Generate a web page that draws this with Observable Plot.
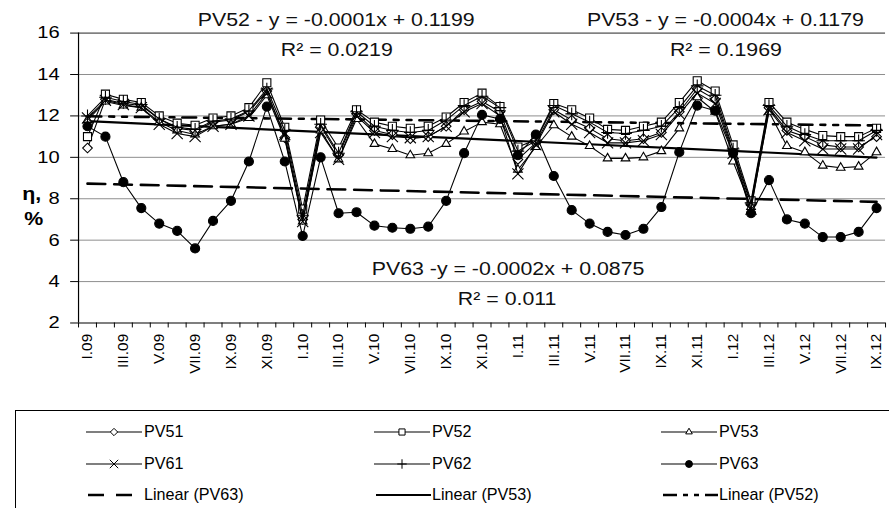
<!DOCTYPE html>
<html><head><meta charset="utf-8">
<script src="https://cdn.jsdelivr.net/npm/d3@7"></script>
<script src="https://cdn.jsdelivr.net/npm/@observablehq/plot@0.6"></script>
<style>
html,body{margin:0;padding:0;background:#fff}
body{width:889px;height:508px;overflow:hidden;position:relative;font-family:"Liberation Sans",Arial,sans-serif}
#chart{position:absolute;left:0;top:0}
#legend{position:absolute;left:15px;top:410px;width:900px;height:130px;border:1px solid #000;box-sizing:border-box}
.li{position:absolute;height:24px}
.li svg{position:absolute;left:0;top:0}
.li span{position:absolute;left:58px;top:2px;font-size:17px;white-space:nowrap;display:inline-block;transform-origin:0 50%;transform:scaleX(0.95)}
</style></head><body>
<div id="chart"></div><div id="legend"></div>
<script>
// ---- data ----
const months = ["I.09","II.09","III.09","IV.09","V.09","VI.09","VII.09","VIII.09","IX.09","X.09","XI.09","XII.09",
"I.10","II.10","III.10","IV.10","V.10","VI.10","VII.10","VIII.10","IX.10","X.10","XI.10","XII.10",
"I.11","II.11","III.11","IV.11","V.11","VI.11","VII.11","VIII.11","IX.11","X.11","XI.11","XII.11",
"I.12","II.12","III.12","IV.12","V.12","VI.12","VII.12","VIII.12","IX.12"];
const pv51 = [10.45,12.8,12.6,12.5,11.85,11.4,11.3,11.7,11.8,12.2,13.2,10.95,7.0,11.5,10.1,12.1,11.3,11.1,10.9,11.0,11.5,12.3,12.7,12.2,9.9,10.7,12.3,11.8,11.4,10.9,10.8,10.9,11.2,12.2,13.3,12.8,10.3,7.7,12.4,11.3,11.0,10.6,10.5,10.5,11.0];
const pv52 = [11.0,13.05,12.8,12.65,12.0,11.65,11.55,11.9,12.0,12.4,13.6,11.45,7.5,11.8,10.45,12.3,11.7,11.5,11.4,11.5,11.95,12.65,13.1,12.45,10.5,10.85,12.6,12.3,11.9,11.35,11.3,11.5,11.7,12.65,13.7,13.2,10.6,7.9,12.65,11.7,11.35,11.05,11.0,11.0,11.4];
const pv53 = [11.8,12.7,12.5,12.4,11.7,11.3,11.1,11.5,11.6,11.9,13.0,10.9,6.9,11.3,9.9,11.85,10.65,10.4,10.1,10.2,10.65,11.25,11.7,11.6,9.4,10.5,11.55,11.0,10.55,9.95,9.95,10.0,10.3,11.4,12.9,12.2,9.8,7.6,12.2,10.55,10.25,9.6,9.5,9.55,10.25];
const pv61 = [11.9,12.75,12.55,12.4,11.6,11.15,11.0,11.5,11.6,12.0,13.1,11.1,6.9,11.2,9.9,12.0,11.2,11.0,10.95,11.0,11.5,12.2,12.6,12.0,9.2,10.6,12.2,11.6,11.2,10.7,10.7,10.8,11.1,12.1,13.1,12.6,10.2,7.5,12.3,11.2,10.8,10.4,10.4,10.4,11.1];
const pv62 = [12.0,12.9,12.7,12.55,11.85,11.45,11.35,11.75,11.85,12.25,13.3,11.3,7.2,11.6,10.2,12.2,11.5,11.3,11.2,11.3,11.8,12.5,12.95,12.4,10.3,10.8,12.5,12.1,11.7,11.2,11.15,11.3,11.5,12.4,13.45,13.0,10.4,7.8,12.5,11.5,11.1,10.8,10.8,10.8,11.3];
const pv63 = [11.5,11.0,8.8,7.55,6.8,6.45,5.6,6.93,7.9,9.8,12.45,9.8,6.2,10.0,7.3,7.35,6.7,6.6,6.55,6.65,7.9,10.2,12.05,11.85,10.1,11.1,9.1,7.45,6.8,6.4,6.25,6.55,7.6,10.25,12.5,12.25,10.2,7.3,8.9,7.0,6.8,6.15,6.15,6.4,7.55];
// trend lines: values at first and last month
const trendPV63 = [8.73, 7.85];
const trendPV53 = [11.75, 9.99];
const trendPV52 = [11.98, 11.54];
const yTicks = [2,4,6,8,10,12,14,16];
const labels = [
  {text:"PV52 - y = -0.0001x + 0.1199", i:13.87, v:16.61},
  {text:"R² = 0.0219", i:13.9, v:15.15},
  {text:"PV53 - y = -0.0004x + 0.1179", i:35.57, v:16.61},
  {text:"R² = 0.1969", i:35.6, v:15.15},
  {text:"PV63 -y = -0.0002x + 0.0875", i:23.45, v:4.6},
  {text:"R² = 0.011", i:23.4, v:3.13}
];

// ---- build ----
const idx = months.map((m, i) => i);
const seriesDefs = [
  {name:"PV51", values:pv51, symbol:"diamond2", r:4.4, fill:"white", stroke:"black"},
  {name:"PV52", values:pv52, symbol:"square2", r:5.2, fill:"white", stroke:"black"},
  {name:"PV53", values:pv53, symbol:"triangle2", r:4.2, fill:"white", stroke:"black"},
  {name:"PV61", values:pv61, symbol:"times", r:5.2, fill:"none", stroke:"black"},
  {name:"PV62", values:pv62, symbol:"plus", r:4.2, fill:"none", stroke:"black"},
  {name:"PV63", values:pv63, symbol:"circle", r:4.6, fill:"black", stroke:"black"}
];
const trendDefs = [
  {name:"Linear (PV63)", values:trendPV63, dash:"18,9", legendDash:"16,12", w:2.6},
  {name:"Linear (PV53)", values:trendPV53, dash:null, legendDash:null, w:2.2},
  {name:"Linear (PV52)", values:trendPV52, dash:"14,8,5,8,5,8", legendDash:"14,6,5,6,5,6", w:2.6}
];
const W = 900, H = 410;
const x0 = 79, x1 = 896, yTop = 33, yBot = 326.5;
const boundaries = d3.range(months.length + 1).map(k => k - 0.5);
const labelIdx = idx.filter(i => i % 2 === 0);

const marks = [
  Plot.ruleY(yTicks.filter(t => t > 2 && t < 16), {stroke:"#8c8c8c", strokeWidth:1}),
  Plot.ruleY([16], {stroke:"#222", strokeWidth:1}),
];
for (const t of trendDefs) {
  const data = [{i:0, v:t.values[0]}, {i:months.length - 1, v:t.values[1]}];
  marks.push(Plot.line(data, {x:"i", y:"v", stroke:"black", strokeWidth:t.w, strokeDasharray:t.dash || undefined}));
}
for (const s of seriesDefs) {
  const data = s.values.map((v, i) => ({i, v}));
  marks.push(Plot.line(data, {x:"i", y:"v", stroke:"black", strokeWidth:1.1}));
  marks.push(Plot.dot(data, {x:"i", y:"v", symbol:() => s.symbol, r:s.r, fill:s.fill, stroke:s.stroke, strokeWidth:1.1}));
}
marks.push(
  Plot.ruleY([2], {stroke:"black", strokeWidth:1.2}),
  Plot.ruleX([-0.5], {stroke:"black", strokeWidth:1.2}),
  Plot.axisY({ticks:yTicks, tickSize:8, tickPadding:11, fontSize:17, label:null, tickFormat:d => String(d)}),
  Plot.axisX({ticks:boundaries, tickSize:5, label:null, tickFormat:() => "", stroke:"black"}),
  Plot.axisX({ticks:labelIdx, tickSize:0, tickPadding:11, tickRotate:-90, fontSize:15.5, label:null, tickFormat:i => months[i]}),
  Plot.text(labels, {x:"i", y:"v", text:"text", fontSize:18, fill:"#111", textAnchor:"middle"}),
  Plot.text(["η,"], {frameAnchor:"left", dx:-57, dy:16, fontSize:18, fontWeight:"bold", textAnchor:"start"}),
  Plot.text(["%"], {frameAnchor:"left", dx:-55, dy:42, fontSize:18, fontWeight:"bold", textAnchor:"start"})
);

const chart = Plot.plot({
  width:W, height:H,
  marginLeft:x0, marginRight:W - x1, marginTop:yTop, marginBottom:H - yBot,
  style:{fontFamily:"'Liberation Sans', Arial, sans-serif", color:"black", background:"white", overflow:"visible"},
  x:{type:"linear", domain:[-0.5, months.length - 0.5], axis:null},
  y:{domain:[2,16], axis:null},
  marks
});
// widen horizontal text (reference glyphs are horizontally stretched)
chart.querySelectorAll("text").forEach(t => {
  const g = t.closest("g[aria-label]");
  const lab = g ? g.getAttribute("aria-label") : "";
  if (lab && lab.includes("x-axis")) return;
  const tr = t.getAttribute("transform");
  if (tr) t.setAttribute("transform", tr + " scale(1.2,1)");
});
document.getElementById("chart").appendChild(chart);

// ---- legend ----
const legend = document.getElementById("legend");
const cols = [70, 358, 645], rowsY = [9, 41, 72];
const entries = [
  {def:seriesDefs[0]},{def:seriesDefs[1]},{def:seriesDefs[2]},
  {def:seriesDefs[3]},{def:seriesDefs[4]},{def:seriesDefs[5]},
  {trend:trendDefs[0]},{trend:trendDefs[1]},{trend:trendDefs[2]}
];
entries.forEach((e, k) => {
  const div = document.createElement("div");
  div.className = "li";
  div.style.left = cols[k % 3] + "px";
  div.style.top = rowsY[Math.floor(k / 3)] + "px";
  const ns = "http://www.w3.org/2000/svg";
  const svg = document.createElementNS(ns, "svg");
  svg.setAttribute("width", 58); svg.setAttribute("height", 24);
  const line = document.createElementNS(ns, "line");
  line.setAttribute("x1", 0); line.setAttribute("x2", 56); line.setAttribute("y1", 12); line.setAttribute("y2", 12);
  line.setAttribute("stroke", "black");
  if (e.def) {
    line.setAttribute("stroke-width", 1.1);
    svg.appendChild(line);
    const p = document.createElementNS(ns, "path");
    const symMap = {diamond2:d3.symbolDiamond2, square2:d3.symbolSquare2, triangle2:d3.symbolTriangle2, times:d3.symbolTimes, plus:d3.symbolPlus, circle:d3.symbolCircle};
    const rr = e.def.r * 0.75;
    p.setAttribute("d", d3.symbol(symMap[e.def.symbol], Math.PI * rr * rr)());
    p.setAttribute("transform", "translate(28,12)");
    p.setAttribute("fill", e.def.fill); p.setAttribute("stroke", "black"); p.setAttribute("stroke-width", 1);
    svg.appendChild(p);
  } else {
    line.setAttribute("x1", 2); line.setAttribute("x2", 57);
    line.setAttribute("stroke-width", e.trend.w);
    if (e.trend.legendDash) line.setAttribute("stroke-dasharray", e.trend.legendDash);
    svg.appendChild(line);
  }
  div.appendChild(svg);
  const sp = document.createElement("span");
  sp.textContent = e.def ? e.def.name : e.trend.name;
  div.appendChild(sp);
  legend.appendChild(div);
});
</script>
</body></html>
